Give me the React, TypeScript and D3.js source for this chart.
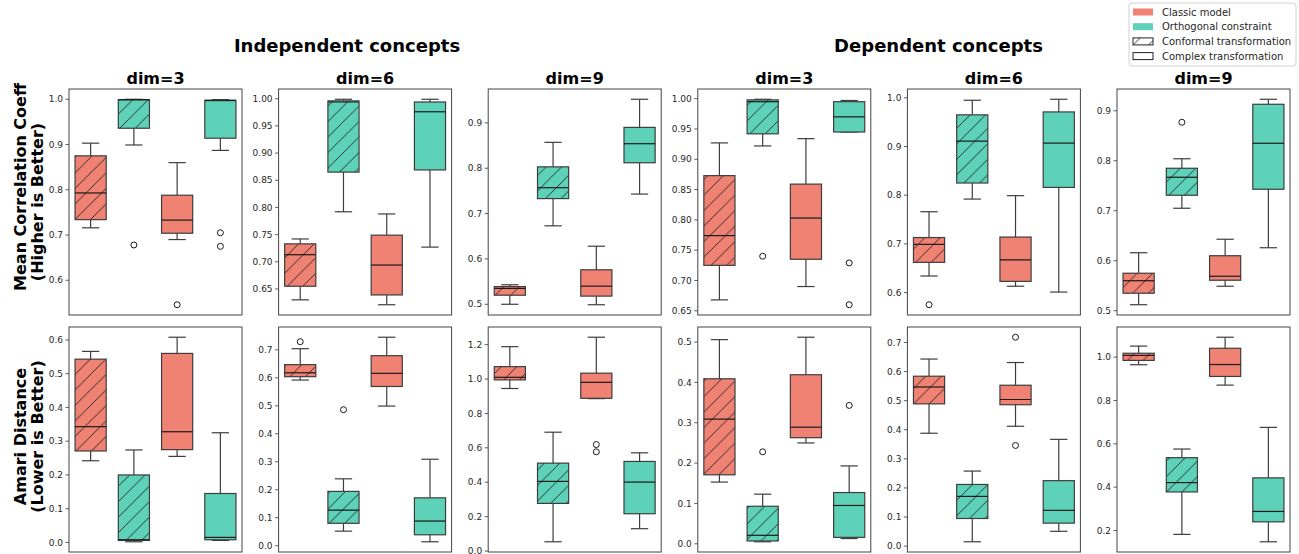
import React from 'react';
import * as d3 from 'd3';

const W = 1299;
const H = 554;
const FONT = '"DejaVu Sans", sans-serif';
const RED = '#f08274';
const TEAL = '#5dd2b8';
const EDGE = '#3d3d3d';

// categories
const concepts = ['Independent concepts', 'Dependent concepts'];
const dims = ['dim=3', 'dim=6', 'dim=9'];
const metricLabels = [
  ['Mean Correlation Coeff', '(Higher is Better)'],
  ['Amari Distance', '(Lower is Better)'],
];
const boxModels = ['Classic model', 'Orthogonal constraint', 'Classic model', 'Orthogonal constraint'];
const boxTransforms = ['Conformal transformation', 'Conformal transformation', 'Complex transformation', 'Complex transformation'];

// box stats: [whiskerLow, q1, median, q3, whiskerHigh], one per box
const corrInd3 = [[0.716, 0.734, 0.793, 0.875, 0.903], [0.899, 0.936, 0.999, 0.999, 1.0], [0.690, 0.704, 0.733, 0.788, 0.860], [0.887, 0.914, 0.998, 0.997, 0.999]];
const corrInd3Out = [[], [0.678], [0.546], [0.705, 0.675]];
const corrInd6 = [[0.630, 0.655, 0.713, 0.733, 0.742], [0.792, 0.865, 0.994, 0.996, 0.999], [0.621, 0.639, 0.694, 0.749, 0.788], [0.727, 0.869, 0.976, 0.994, 0.999]];
const corrInd6Out = [[], [], [], []];
const corrInd9 = [[0.500, 0.520, 0.535, 0.539, 0.543], [0.673, 0.733, 0.757, 0.803, 0.857], [0.499, 0.518, 0.540, 0.576, 0.628], [0.743, 0.812, 0.854, 0.890, 0.952]];
const corrInd9Out = [[], [], [], []];
const corrDep3 = [[0.668, 0.725, 0.774, 0.873, 0.927], [0.922, 0.942, 0.995, 0.998, 0.999], [0.690, 0.735, 0.803, 0.859, 0.934], [0.945, 0.945, 0.970, 0.995, 0.997]];
const corrDep3Out = [[], [0.740], [], [0.729, 0.660]];
const corrDep6 = [[0.634, 0.662, 0.699, 0.713, 0.766], [0.792, 0.825, 0.911, 0.965, 0.995], [0.613, 0.623, 0.667, 0.714, 0.799], [0.601, 0.816, 0.907, 0.971, 0.997]];
const corrDep6Out = [[0.575], [], [], []];
const corrDep9 = [[0.512, 0.535, 0.560, 0.575, 0.616], [0.705, 0.731, 0.767, 0.785, 0.804], [0.549, 0.561, 0.569, 0.610, 0.643], [0.626, 0.743, 0.835, 0.913, 0.923]];
const corrDep9Out = [[], [0.877], [], []];

const amariInd3 = [[0.242, 0.271, 0.343, 0.543, 0.566], [0.002, 0.006, 0.008, 0.200, 0.274], [0.255, 0.275, 0.328, 0.560, 0.608], [0.006, 0.008, 0.015, 0.145, 0.325]];
const amariInd3Out = [[], [], [], []];
const amariInd6 = [[0.592, 0.604, 0.618, 0.647, 0.704], [0.052, 0.080, 0.127, 0.194, 0.239], [0.499, 0.569, 0.616, 0.679, 0.745], [0.014, 0.039, 0.088, 0.171, 0.309]];
const amariInd6Out = [[0.729], [0.486], [], []];
const amariInd9 = [[0.945, 0.995, 1.010, 1.072, 1.188], [0.054, 0.277, 0.405, 0.511, 0.691], [0.886, 0.888, 0.981, 1.034, 1.243], [0.130, 0.217, 0.401, 0.521, 0.571]];
const amariInd9Out = [[], [], [0.619, 0.577], []];
const amariDep3 = [[0.153, 0.171, 0.309, 0.409, 0.506], [0.005, 0.007, 0.021, 0.093, 0.123], [0.250, 0.263, 0.289, 0.419, 0.512], [0.013, 0.016, 0.095, 0.127, 0.193]];
const amariDep3Out = [[], [0.228], [], [0.343]];
const amariDep6 = [[0.388, 0.489, 0.547, 0.584, 0.643], [0.015, 0.095, 0.171, 0.212, 0.258], [0.412, 0.486, 0.504, 0.553, 0.631], [0.051, 0.079, 0.123, 0.225, 0.367]];
const amariDep6Out = [[], [], [0.718, 0.346], []];
const amariDep9 = [[0.965, 0.985, 1.008, 1.018, 1.051], [0.182, 0.378, 0.421, 0.536, 0.576], [0.871, 0.911, 0.966, 1.041, 1.092], [0.148, 0.240, 0.288, 0.443, 0.676]];
const amariDep9Out = [[], [], [], []];

// tick labels
const corrInd3Ticks = [0.6, 0.7, 0.8, 0.9, 1.0];
const corrInd6Ticks = [0.65, 0.70, 0.75, 0.80, 0.85, 0.90, 0.95, 1.00];
const corrInd9Ticks = [0.5, 0.6, 0.7, 0.8, 0.9];
const corrDep3Ticks = [0.65, 0.70, 0.75, 0.80, 0.85, 0.90, 0.95, 1.00];
const corrDep6Ticks = [0.6, 0.7, 0.8, 0.9, 1.0];
const corrDep9Ticks = [0.5, 0.6, 0.7, 0.8, 0.9];
const amariInd3Ticks = [0.0, 0.1, 0.2, 0.3, 0.4, 0.5, 0.6];
const amariInd6Ticks = [0.0, 0.1, 0.2, 0.3, 0.4, 0.5, 0.6, 0.7];
const amariInd9Ticks = [0.0, 0.2, 0.4, 0.6, 0.8, 1.0, 1.2];
const amariDep3Ticks = [0.0, 0.1, 0.2, 0.3, 0.4, 0.5];
const amariDep6Ticks = [0.0, 0.1, 0.2, 0.3, 0.4, 0.5, 0.6, 0.7];
const amariDep9Ticks = [0.2, 0.4, 0.6, 0.8, 1.0];

const panels = [
  [corrInd3, corrInd3Out, corrInd3Ticks], [corrInd6, corrInd6Out, corrInd6Ticks], [corrInd9, corrInd9Out, corrInd9Ticks],
  [corrDep3, corrDep3Out, corrDep3Ticks], [corrDep6, corrDep6Out, corrDep6Ticks], [corrDep9, corrDep9Out, corrDep9Ticks],
  [amariInd3, amariInd3Out, amariInd3Ticks], [amariInd6, amariInd6Out, amariInd6Ticks], [amariInd9, amariInd9Out, amariInd9Ticks],
  [amariDep3, amariDep3Out, amariDep3Ticks], [amariDep6, amariDep6Out, amariDep6Ticks], [amariDep9, amariDep9Out, amariDep9Ticks],
] as [number[][], number[][], number[]][];

// layout
const PW = 173;
const colLeft = (c: number) => 69 + c * 209.6;
const rowTop = [89, 327];
const PH = [226, 225];
const HATCH = 15.5;

const modelColor = (m: string) => (m === 'Classic model' ? RED : TEAL);

function Panel({ idx }: { idx: number }) {
  const [stats, outs, ticks] = panels[idx];
  const row = Math.floor(idx / 6);
  const col = idx % 6;
  const left = colLeft(col);
  const top = rowTop[row];
  const ph = PH[row];

  const all = stats.flat().concat(outs.flat());
  const lo = d3.min(all)!;
  const hi = d3.max(all)!;
  const pad = (hi - lo) * 0.05;
  const y = d3.scaleLinear().domain([lo - pad, hi + pad]).range([top + ph, top]);
  const x = d3.scaleLinear().domain([-0.5, 3.5]).range([left, left + PW]);
  const step = +(ticks[1] - ticks[0]).toFixed(6);
  const fmt = d3.format(`.${d3.precisionFixed(step)}f`);
  const half = x(0.36) - x(0);
  const cap = x(0.2) - x(0);

  return (
    <g>
      {ticks.map((t) => (
        <g key={t}>
          <line x1={left - 3.5} x2={left} y1={y(t)} y2={y(t)} stroke="#333" strokeWidth={0.8} />
          <text x={left - 6} y={y(t)} dy="0.35em" textAnchor="end" fontSize={9} fill="#262626" fontFamily={FONT}>
            {fmt(t)}
          </text>
        </g>
      ))}
      {stats.map((s, i) => {
        const cx = x(i);
        const [wl, q1, med, q3, wh] = s;
        const fill = modelColor(boxModels[i]);
        const hatched = boxTransforms[i] === 'Conformal transformation';
        const by = y(Math.max(q1, q3));
        const bh = Math.abs(y(q1) - y(q3));
        return (
          <g key={i}>
            <line x1={cx} x2={cx} y1={y(q3)} y2={y(wh)} stroke={EDGE} strokeWidth={1.2} />
            <line x1={cx} x2={cx} y1={y(q1)} y2={y(wl)} stroke={EDGE} strokeWidth={1.2} />
            <line x1={cx - cap} x2={cx + cap} y1={y(wh)} y2={y(wh)} stroke={EDGE} strokeWidth={1.2} />
            <line x1={cx - cap} x2={cx + cap} y1={y(wl)} y2={y(wl)} stroke={EDGE} strokeWidth={1.2} />
            <rect x={cx - half} y={by} width={half * 2} height={bh} fill={fill} />
            {hatched && <rect x={cx - half} y={by} width={half * 2} height={bh} fill="url(#hatch)" />}
            <rect x={cx - half} y={by} width={half * 2} height={bh} fill="none" stroke={EDGE} strokeWidth={1.2} />
            <line x1={cx - half} x2={cx + half} y1={y(med)} y2={y(med)} stroke="#1a1a1a" strokeWidth={1.2} />
            {outs[i].map((o, k) => (
              <circle key={k} cx={cx} cy={y(o)} r={3} fill="none" stroke="#1a1a1a" strokeWidth={1} />
            ))}
          </g>
        );
      })}
      <rect x={left} y={top} width={PW} height={ph} fill="none" stroke="#444" strokeWidth={1} />
      {row === 0 && (
        <text x={left + PW / 2} y={top - 5} textAnchor="middle" fontSize={16} fontWeight="bold" fontFamily={FONT}>
          {dims[col % 3]}
        </text>
      )}
    </g>
  );
}

const legendItems = [
  { label: 'Classic model', kind: 'model' },
  { label: 'Orthogonal constraint', kind: 'model' },
  { label: 'Conformal transformation', kind: 'hatch' },
  { label: 'Complex transformation', kind: 'plain' },
];

export default function App() {
  return (
    <div style={{ position: 'absolute', left: 0, top: 0 }}>
      <svg width={W} height={H} viewBox={`0 0 ${W} ${H}`} style={{ display: 'block', background: '#fff' }}>
        <defs>
          <pattern id="hatch" patternUnits="userSpaceOnUse" width={HATCH} height={HATCH}>
            <path
              d={`M0,${HATCH} L${HATCH},0 M${-HATCH / 2},${HATCH / 2} L${HATCH / 2},${-HATCH / 2} M${HATCH / 2},${HATCH * 1.5} L${HATCH * 1.5},${HATCH / 2}`}
              stroke="#222"
              strokeWidth={0.9}
            />
          </pattern>
        </defs>
        <rect width={W} height={H} fill="#fff" />
        {panels.map((_, i) => (
          <Panel key={i} idx={i} />
        ))}
        {concepts.map((c, i) => (
          <text key={c} x={i === 0 ? 347 : 938.5} y={52} textAnchor="middle" fontSize={18} fontWeight="bold" fontFamily={FONT}>
            {c}
          </text>
        ))}
        {metricLabels.map((lines, r) => {
          const cy = rowTop[r] + PH[r] / 2;
          return lines.map((t, k) => {
            const yc = r === 0 && k === 0 ? cy - 15 : cy - (r === 1 ? 3 : 0);
            const xb = k === 0 ? 26 : 43;
            return (
              <text
                key={t}
                transform={`translate(${xb},${yc}) rotate(-90)`}
                textAnchor="middle"
                fontSize={16}
                fontWeight="bold"
                fontFamily={FONT}
              >
                {t}
              </text>
            );
          });
        })}
        <g>
          <rect x={1129} y={3} width={167} height={63} rx={3} fill="#fff" stroke="#d0d0d0" strokeWidth={1} />
          {legendItems.map((d, i) => {
            const cy = 12 + i * 14.7;
            return (
              <g key={d.label}>
                {d.kind === 'model' ? (
                  <rect x={1133} y={cy - 3.5} width={20} height={7} fill={modelColor(d.label)} />
                ) : (
                  <>
                    <rect x={1133} y={cy - 3.5} width={20} height={7} fill="#fff" />
                    {d.kind === 'hatch' && <rect x={1133} y={cy - 3.5} width={20} height={7} fill="url(#hatch)" />}
                    <rect x={1133} y={cy - 3.5} width={20} height={7} fill="none" stroke="#222" strokeWidth={1} />
                  </>
                )}
                <text x={1162} y={cy} dy="0.35em" fontSize={10} fill="#262626" fontFamily={FONT}>
                  {d.label}
                </text>
              </g>
            );
          })}
        </g>
      </svg>
    </div>
  );
}
